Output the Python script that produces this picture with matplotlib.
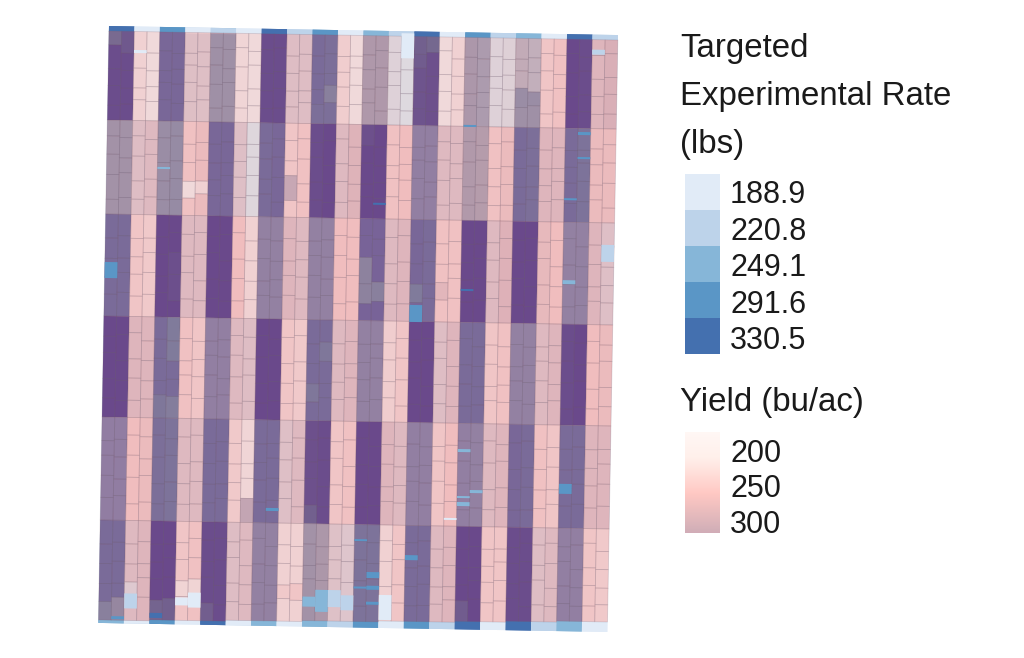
import numpy as np
import matplotlib
matplotlib.use("Agg")
import matplotlib.pyplot as plt
from matplotlib.collections import PolyCollection
from matplotlib.colors import LinearSegmentedColormap, Normalize
from matplotlib.patches import Rectangle
from matplotlib.transforms import Affine2D

plt.rcParams['font.family'] = ['Liberation Sans', 'DejaVu Sans']

rate_labels = ["188.9", "220.8", "249.1", "291.6", "330.5"]
rate_colors = ["#e1ebf7", "#bdd3ea", "#86b6d8", "#5a96c6", "#4470af"]
yield_ticks = [200, 250, 300]

# rate level per strip pair, one row per trial block
rate_blocks = [
    [4, 0, 3, 1, 2, 0, 4, 1, 3, 0, 2, 1, 4, 0, 3, 1, 2, 0, 4, 1],
    [2, 1, 2, 0, 3, 1, 3, 0, 4, 1, 4, 0, 2, 1, 2, 0, 3, 1, 3, 0],
    [3, 0, 4, 1, 4, 0, 2, 1, 2, 0, 3, 1, 3, 0, 4, 1, 4, 0, 2, 1],
    [4, 1, 3, 0, 2, 1, 4, 0, 3, 1, 2, 0, 4, 1, 3, 0, 2, 1, 4, 0],
    [2, 0, 3, 1, 3, 0, 3, 1, 4, 0, 4, 1, 2, 0, 2, 1, 3, 0, 3, 1],
    [3, 1, 4, 0, 4, 1, 2, 0, 2, 1, 3, 0, 3, 1, 4, 0, 4, 1, 2, 0],
]
top_rates = [4, 0, 3, 0, 1, 0, 4, 1, 3, 0, 2, 1, 4, 0, 3, 1, 2, 0, 4, 1]
bottom_rates = [2, 0, 3, 0, 4, 0, 2, 0, 2, 1, 3, 0, 3, 1, 4, 0, 4, 1, 2, 0]

# yield per block, two values per pair
yield_blocks = [
    [335, 335, 225, 215, 325, 325, 233, 233, 290, 290, 220, 215, 335, 335, 235, 235, 320, 315, 230, 215,
     272, 272, 210, 200, 325, 330, 215, 225, 245, 240, 210, 212, 240, 235, 240, 245, 340, 335, 245, 255],
    [285, 285, 235, 240, 295, 300, 245, 255, 325, 325, 232, 205, 320, 325, 240, 245, 335, 340, 240, 248,
     340, 340, 245, 250, 315, 315, 240, 240, 270, 265, 245, 255, 320, 315, 245, 245, 320, 310, 255, 255],
    [320, 320, 240, 235, 340, 340, 240, 240, 340, 340, 250, 225, 312, 312, 245, 240, 312, 312, 250, 250,
     330, 330, 240, 245, 325, 320, 245, 245, 340, 340, 240, 250, 340, 340, 260, 250, 312, 312, 245, 232],
    [340, 340, 245, 245, 320, 320, 245, 240, 315, 315, 240, 235, 340, 340, 240, 235, 320, 320, 240, 245,
     312, 312, 230, 240, 340, 340, 235, 245, 320, 320, 240, 245, 312, 312, 240, 245, 335, 340, 250, 255],
    [318, 318, 250, 255, 315, 310, 240, 240, 320, 320, 235, 220, 320, 320, 232, 240, 330, 335, 240, 245,
     340, 340, 245, 240, 315, 315, 240, 250, 315, 312, 240, 245, 325, 320, 245, 240, 320, 320, 245, 245],
    [320, 320, 240, 245, 340, 340, 240, 245, 335, 335, 235, 240, 312, 312, 225, 225, 285, 275, 230, 225,
     310, 310, 225, 240, 320, 320, 240, 245, 340, 340, 240, 240, 335, 335, 235, 240, 315, 315, 240, 235],
]
# single cells that differ from their block: block, subcol, row, yield
cell_changes = [
    (0, 0, 0, 295), (0, 1, 0, 320), (0, 17, 3, 290), (0, 16, 4, 315),
    (0, 32, 3, 295), (0, 33, 3, 295), (0, 32, 4, 290), (0, 33, 4, 290),
    (0, 24, 0, 310), (0, 24, 1, 315), (0, 25, 0, 300),
    (1, 14, 3, 295), (1, 6, 3, 215), (1, 7, 3, 225), (1, 20, 0, 330),
    (2, 20, 2, 285), (2, 20, 3, 285), (2, 21, 3, 290), (2, 24, 3, 300),
    (2, 26, 3, 265), (2, 5, 2, 332), (2, 5, 3, 332),
    (3, 5, 0, 300), (3, 5, 1, 300), (3, 4, 4, 305), (3, 5, 4, 295),
    (3, 16, 3, 305), (3, 17, 1, 305),
    (4, 11, 4, 300), (4, 16, 4, 310),
    (5, 5, 4, 310), (5, 4, 4, 305), (5, 0, 4, 290), (5, 1, 4, 275),
    (5, 8, 4, 312), (5, 28, 4, 315), (5, 2, 3, 220), (5, 6, 3, 222), (5, 7, 3, 222),
    (5, 14, 3, 235), (5, 15, 3, 240),
]
# holes in the yield layer where the rate colour shows: subcol, distance from top, height
yield_holes = [
    (2, 23.5, 3), (4, 140, 2), (0, 236, 16), (21, 172, 2), (28, 92.5, 2),
    (37, 97.6, 3), (37, 122.6, 2), (36, 164, 2), (36, 246, 4), (24, 273.5, 17),
    (28, 256.6, 2), (39, 210, 17), (13, 479, 3), (28, 416.7, 3), (29, 457.5, 3),
    (28, 463.7, 2), (28, 469.7, 4), (27, 485.8, 2), (36, 449.7, 10), (20, 508.6, 2),
    (24, 523.7, 5), (21, 541.3, 6), (20, 556, 2), (21, 555, 4), (21, 571, 3),
    (16, 567, 10), (17, 560, 22), (18, 560, 17), (19, 565, 15), (7, 565, 15),
    (6, 570, 8), (2, 567, 15), (4, 586, 5), (1, 590, 3), (22, 564, 25),
    (23, 2, 25), (38, 15, 5),
]

pair_w = 25.45
sub_w = pair_w / 2
block_edges = [5, 94, 188, 290, 391, 494]
yield_end = [594, 594, 593, 593, 593, 592, 592, 592, 591, 591,
             591, 590, 590, 590, 589, 589, 588, 588, 587, 587]
rate_end = 597
row_shift = [0, 3.5, -2, 3, -4, 1.5, 4, -3, 2, -1.5, 3.5, -3.5, 1]

fig = plt.figure(figsize=(10.24, 6.58), dpi=100)
ax = fig.add_axes([0, 0, 1, 1])
ax.set_xlim(0, 1024)
ax.set_ylim(658, 0)
ax.axis('off')
field = Affine2D().rotate_deg(1.02).translate(109, 26) + ax.transData


def box(x0, x1, y0, y1):
    return [(x0, y0), (x1, y0), (x1, y1), (x0, y1)]


yield_cmap = LinearSegmentedColormap.from_list("yield", [
    (0.0, (1.0, 0.94, 0.92)),
    (35 / 175, (1.0, 0.88, 0.84)),
    (85 / 175, (1.0, 0.57, 0.53)),
    (135 / 175, (0.655, 0.38, 0.443)),
    (1.0, (0.565, 0.14, 0.41)),
])
yield_norm = Normalize(165, 340)

# rate layer
polys, cols = [], []
edges = [0] + block_edges[1:] + [rate_end]
for b, row in enumerate(rate_blocks):
    for p, level in enumerate(row):
        polys.append(box(p * pair_w, (p + 1) * pair_w, edges[b], edges[b + 1]))
        cols.append(rate_colors[level])
for p in range(20):
    polys.append(box(p * pair_w, (p + 1) * pair_w, 0, 6))
    cols.append(rate_colors[top_rates[p]])
    polys.append(box(p * pair_w, (p + 1) * pair_w, yield_end[p], rate_end))
    cols.append(rate_colors[bottom_rates[p]])
ax.add_collection(PolyCollection(polys, facecolors=cols, edgecolors='none', transform=field, zorder=1))

# yield layer
values = np.array(yield_blocks, dtype=float)
changes = {(b, s, r): v for b, s, r, v in cell_changes}
polys, vals = [], []
for b in range(6):
    for s in range(40):
        y0 = block_edges[b]
        y1 = block_edges[b + 1] if b < 5 else yield_end[s // 2]
        h = (y1 - y0) / 5
        for r in range(5):
            shift = row_shift[(s * 2 + b * 3 + r * 4) % len(row_shift)]
            top = y0 + r * h + (shift if r > 0 else 0)
            next_shift = row_shift[(s * 2 + b * 3 + (r + 1) * 4) % len(row_shift)]
            bot = y0 + (r + 1) * h + (next_shift if r < 4 else 0)
            polys.append(box(s * sub_w, (s + 1) * sub_w, top, bot))
            vals.append(changes.get((b, s, r), values[b, s]))
face = yield_cmap(yield_norm(np.array(vals)), alpha=0.5)
ax.add_collection(PolyCollection(polys, facecolors=face, edgecolors=(0.45, 0.35, 0.42, 0.22),
                                 linewidths=0.6, transform=field, zorder=2))

# holes
polys, cols = [], []
for s, y, h in yield_holes:
    b = np.searchsorted(block_edges, y, side='right') - 1
    polys.append(box(s * sub_w, (s + 1) * sub_w, y, y + h))
    cols.append(rate_colors[rate_blocks[b][s // 2]])
ax.add_collection(PolyCollection(polys, facecolors=cols, edgecolors='none', transform=field, zorder=3))

# legends
title_fs = 23.8
label_fs = 22
for y, txt in zip([48, 97, 145, 402], ["Targeted", "Experimental Rate", "(lbs)", "Yield (bu/ac)"]):
    ax.text(680, y, txt, fontsize=title_fs, va='center', ha='left', color='#1a1a1a')
for i, (lab, c) in enumerate(zip(rate_labels, rate_colors)):
    ax.add_patch(Rectangle((685, 174 + i * 36), 35, 36, facecolor=c, edgecolor='none'))
    ax.text(730, 195 + i * 36.6, lab, fontsize=label_fs, va='center', ha='left', color='#1a1a1a')
grad = np.linspace(165, 304, 100).reshape(-1, 1)
ax.imshow(grad, extent=(685, 720, 533, 432), cmap=yield_cmap, norm=yield_norm, alpha=0.5,
          aspect='auto', zorder=2)
ax.set_xlim(0, 1024)
ax.set_ylim(658, 0)
for y, t in zip([454, 489, 525], yield_ticks):
    ax.text(730, y, str(t), fontsize=label_fs, va='center', ha='left', color='#1a1a1a')

fig.savefig("out.png", dpi=100)
